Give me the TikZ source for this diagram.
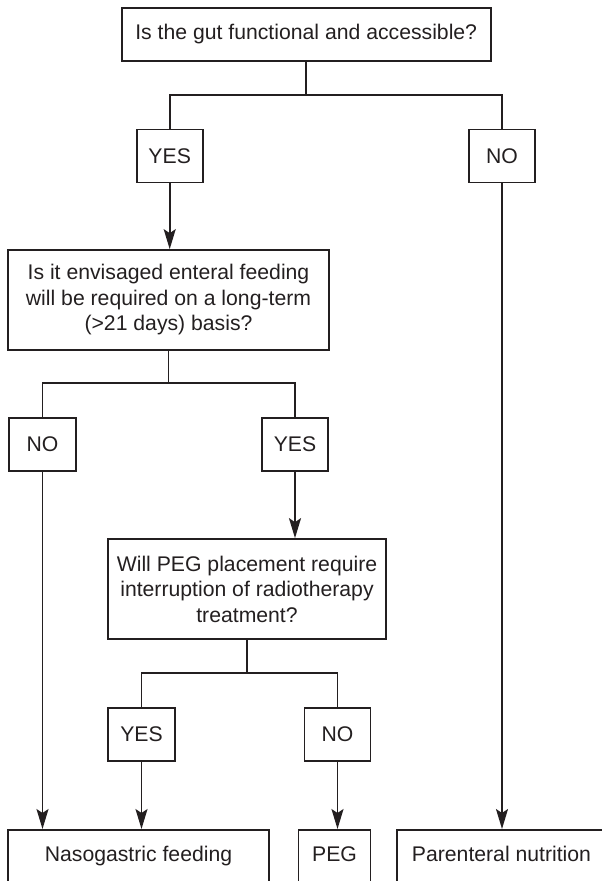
\documentclass[tikz,border=0pt]{standalone}
\usepackage{fontspec}
\setmainfont{Liberation Sans}
\usetikzlibrary{arrows.meta}
\definecolor{ink}{HTML}{231F20}
\tikzset{
  box/.style={draw=ink, line width=1.7pt, rectangle, inner sep=0pt, align=center,
    font=\fontsize{21.2}{25.5}\selectfont, text=ink},
  endbox/.style={box, minimum height=60pt, text height=15.3pt, text depth=12pt, anchor=north},
  conn/.style={draw=ink, line width=1.8pt},
  arr/.style={conn, -{Stealth[length=20pt, width=12pt, inset=4pt]}}
}
\begin{document}
\begin{tikzpicture}[x=1pt, y=-1pt]
\useasboundingbox (0,0) rectangle (602,881);
% decision boxes
\node[box, minimum width=369pt, minimum height=53pt] (top) at (306.2,34.5) {Is the gut functional and accessible?};
\node[box, minimum width=66pt, minimum height=53pt] (yes1) at (169.7,156) {YES};
\node[box, minimum width=66pt, minimum height=53pt] (no1) at (502,156) {NO};
\node[box, minimum width=321pt, minimum height=100pt] (q2) at (168.5,300) {Is it envisaged enteral feeding\\will be required on a long-term\\(>21 days) basis?};
\node[box, minimum width=67pt, minimum height=53pt] (no2) at (42.5,444.5) {NO};
\node[box, minimum width=66pt, minimum height=53pt] (yes2) at (295,444.5) {YES};
\node[box, minimum width=278pt, minimum height=100pt] (q3) at (247,589) {Will PEG placement require\\interruption of radiotherapy\\treatment?};
\node[box, minimum width=67pt, minimum height=53pt] (yes3) at (141.5,734.5) {YES};
\node[box, minimum width=66pt, minimum height=53pt] (no3) at (337.5,734.5) {NO};
% outcome boxes (cut at the bottom edge)
\node[endbox, minimum width=261pt] (ng) at (138.5,829) {Nasogastric feeding};
\node[endbox, minimum width=72pt] (peg) at (334.5,829) {PEG};
\node[endbox, minimum width=209pt] (pn) at (501.5,829) {Parenteral nutrition};
% junctions
\coordinate (j1) at (306.2,95);
\coordinate (j2) at (168.5,383);
\coordinate (j3) at (247,673);
% connectors
\draw[conn] (top.south) -- (j1);
\draw[conn] (yes1.north) |- (j1) -| (no1.north);
\draw[arr] (yes1.south) -- (yes1.south |- q2.north);
\draw[conn] (q2.south) -- (j2);
\draw[conn] (no2.north) |- (j2) -| (yes2.north);
\draw[arr] (yes2.south) -- (yes2.south |- q3.north);
\draw[conn] (q3.south) -- (j3);
\draw[conn] (yes3.north) |- (j3) -| (no3.north);
\draw[arr] (no2.south) -- (no2.south |- ng.north);
\draw[arr] (yes3.south) -- (yes3.south |- ng.north);
\draw[arr] (no3.south) -- (no3.south |- peg.north);
\draw[arr] (no1.south) -- (no1.south |- pn.north);
\end{tikzpicture}
\end{document}
